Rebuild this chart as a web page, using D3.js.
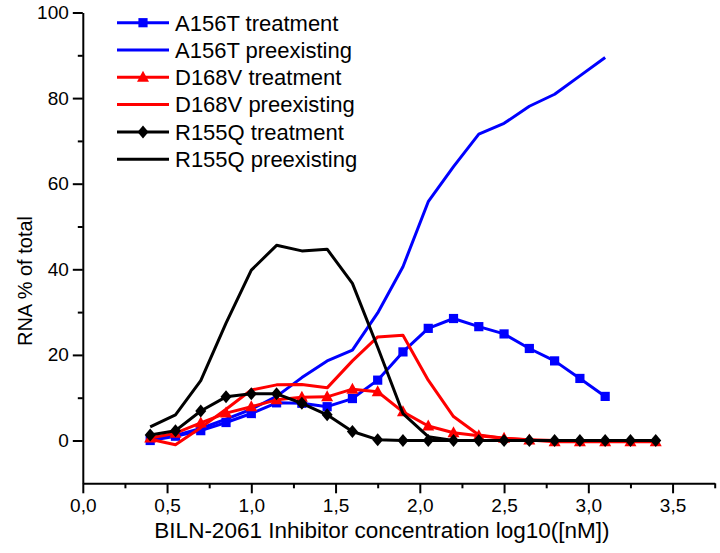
<!DOCTYPE html>
<html>
<head>
<meta charset="utf-8">
<script src="https://cdn.jsdelivr.net/npm/d3@7"></script>
<style>
  body { margin: 0; background: #fff; }
  svg { display: block; }
  text { font-family: Arial, "Liberation Sans", sans-serif; fill: #000; }
</style>
</head>
<body>
<svg id="chart" width="720" height="553"></svg>
<script>
// ---- data ----
const xConc = [0.4, 0.55, 0.7, 0.85, 1.0, 1.15, 1.3, 1.45, 1.6, 1.75, 1.9, 2.05, 2.2, 2.35, 2.5, 2.65, 2.8, 2.95, 3.1, 3.25, 3.4];
const a156tTreatment = [0, 1.0, 2.3, 4.2, 6.3, 8.8, 8.7, 7.9, 9.8, 14.1, 20.7, 26.2, 28.5, 26.6, 24.9, 21.5, 18.6, 14.5, 10.3];
const a156tPreexisting = [0.5, 1.2, 2.8, 5.0, 7.3, 10.3, 14.7, 18.6, 21.1, 29.8, 40.6, 55.8, 64.0, 71.6, 74.1, 78.1, 80.9, 85.2, 89.5];
const d168vTreatment = [0.6, 1.7, 4.1, 6.4, 7.9, 9.5, 10.1, 10.2, 12.0, 11.4, 6.7, 3.4, 1.8, 1.1, 0.5, 0.1, -0.3, -0.3, -0.3, -0.3, -0.3];
const d168vPreexisting = [0.3, -1.0, 3.0, 7.3, 11.8, 13.0, 13.1, 12.3, 18.6, 24.2, 24.6, 14.1, 5.6, 1.3, 0.5, 0.2, 0, 0, 0, 0, 0];
const r155qTreatment = [1.3, 2.3, 6.9, 10.2, 10.9, 10.9, 8.7, 6.0, 2.1, 0.2, 0, 0, 0, 0, 0, 0, 0, 0, 0, 0, 0];
const r155qPreexisting = [3.2, 6.0, 14.0, 27.4, 39.8, 45.6, 44.3, 44.7, 36.7, 21.8, 6.3, 0.9, 0, 0, 0, 0, 0, 0, 0, 0, 0];

const seriesNames = ["A156T treatment", "A156T preexisting", "D168V treatment", "D168V preexisting", "R155Q treatment", "R155Q preexisting"];
const seriesColors = ["#0000ff", "#0000ff", "#ff0000", "#ff0000", "#000000", "#000000"];
const seriesMarkers = ["square", null, "triangle", null, "diamond", null];
const seriesValues = [a156tTreatment, a156tPreexisting, d168vTreatment, d168vPreexisting, r155qTreatment, r155qPreexisting];

const xTickValues = [0, 0.5, 1.0, 1.5, 2.0, 2.5, 3.0, 3.5];
const xTickLabels = ["0,0", "0,5", "1,0", "1,5", "2,0", "2,5", "3,0", "3,5"];
const xMinorTicks = [0.25, 0.75, 1.25, 1.75, 2.25, 2.75, 3.25, 3.75];
const yTickValues = [0, 20, 40, 60, 80, 100];
const yTickLabels = ["0", "20", "40", "60", "80", "100"];
const yMinorTicks = [10, 30, 50, 70, 90];

const xTitle = "BILN-2061 Inhibitor concentration log10([nM])";
const yTitle = "RNA % of total";

// ---- layout ----
const svg = d3.select("#chart");
const x = d3.scaleLinear().domain([0, 3.75]).range([82.8, 714.7]);
const y = d3.scaleLinear().domain([-10, 100]).range([483.3, 12.5]);
const axisColor = "#000";

// axes
const gx = svg.append("g").attr("transform", `translate(0,${y(-10)})`)
  .call(d3.axisBottom(x).tickValues(xTickValues).tickFormat((d, i) => xTickLabels[i])
        .tickSize(10).tickSizeOuter(0).tickPadding(5));
const gxm = svg.append("g").attr("transform", `translate(0,${y(-10)})`)
  .call(d3.axisBottom(x).tickValues(xMinorTicks).tickFormat("").tickSize(5).tickSizeOuter(0));
gxm.select(".domain").remove();

const gy = svg.append("g").attr("transform", `translate(${x(0)},0)`)
  .call(d3.axisLeft(y).tickValues(yTickValues).tickFormat((d, i) => yTickLabels[i])
        .tickSize(10).tickSizeOuter(0).tickPadding(4));
const gym = svg.append("g").attr("transform", `translate(${x(0)},0)`)
  .call(d3.axisLeft(y).tickValues(yMinorTicks).tickFormat("").tickSize(5).tickSizeOuter(0));
gym.select(".domain").remove();

svg.selectAll(".domain, .tick line").attr("stroke", axisColor).attr("stroke-width", 2);
svg.selectAll(".tick text").attr("font-size", 19).attr("font-family", "Arial, 'Liberation Sans', sans-serif").attr("fill", "#000");

// axis titles
svg.append("text").attr("x", 382).attr("y", 538).attr("text-anchor", "middle")
  .attr("font-size", 22.5).text(xTitle);
svg.append("text").attr("transform", `translate(32,281) rotate(-90)`).attr("text-anchor", "middle")
  .attr("font-size", 20).text(yTitle);

// marker shapes
function markerPath(type, cx, cy) {
  if (type === "square") { const s = 4.6; return `M${cx - s},${cy - s}h${2 * s}v${2 * s}h${-2 * s}Z`; }
  if (type === "triangle") { return `M${cx},${cy - 6.5}L${cx + 6},${cy + 4.5}L${cx - 6},${cy + 4.5}Z`; }
  if (type === "diamond") { return `M${cx},${cy - 6.5}L${cx + 5.5},${cy}L${cx},${cy + 6.5}L${cx - 5.5},${cy}Z`; }
  return "";
}

const line = d3.line().x(d => x(d[0])).y(d => y(d[1]));

seriesValues.forEach((vals, si) => {
  const pts = vals.map((v, i) => [xConc[i], v]);
  const g = svg.append("g");
  g.append("path").attr("d", line(pts)).attr("fill", "none")
    .attr("stroke", seriesColors[si]).attr("stroke-width", 3).attr("stroke-linejoin", "round");
  if (seriesMarkers[si]) {
    g.selectAll("path.m").data(pts).enter().append("path").attr("class", "m")
      .attr("d", d => markerPath(seriesMarkers[si], x(d[0]), y(d[1])))
      .attr("fill", seriesColors[si]);
  }
});

// legend
const legendY0 = 22.7, legendStep = 27.3;
seriesNames.forEach((name, i) => {
  const ly = legendY0 + i * legendStep;
  svg.append("line").attr("x1", 117).attr("x2", 169).attr("y1", ly).attr("y2", ly)
    .attr("stroke", seriesColors[i]).attr("stroke-width", 3);
  if (seriesMarkers[i]) {
    svg.append("path").attr("d", markerPath(seriesMarkers[i], 143, ly)).attr("fill", seriesColors[i]);
  }
  svg.append("text").attr("x", 175).attr("y", ly + 7.8).attr("font-size", 22).text(name);
});
</script>
</body>
</html>
